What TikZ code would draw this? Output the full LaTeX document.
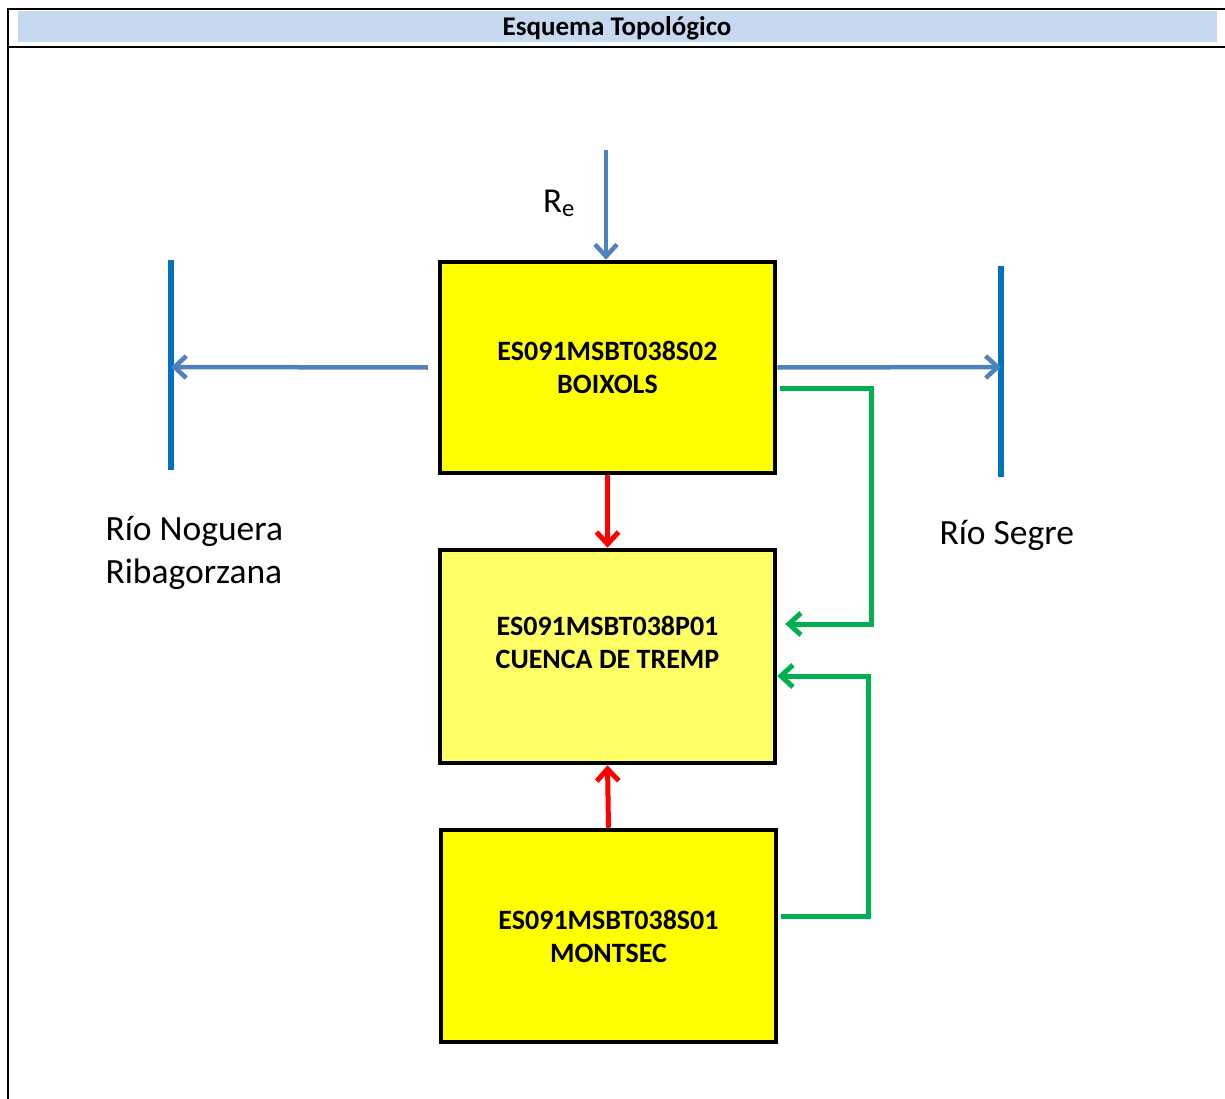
\documentclass[tikz,border=0pt]{standalone}
\usepackage{fontspec}
\setmainfont{Carlito}
\usetikzlibrary{arrows.meta}
\definecolor{hdrblue}{RGB}{198,217,241}
\definecolor{flowblue}{RGB}{79,129,189}
\definecolor{riverblue}{RGB}{0,112,192}
\definecolor{linkgreen}{RGB}{0,176,80}
\definecolor{massyellow}{RGB}{255,255,0}
\definecolor{paleyellow}{RGB}{255,255,102}
\begin{document}
\begin{tikzpicture}[x=1pt,y=-1pt,
  frame/.style={line width=2.5pt,black},
  mass/.style={draw=black,line width=4.5pt,minimum width=335pt,inner sep=0pt},
  masstext/.style={font=\fontsize{28}{33}\selectfont\bfseries,align=center},
  tip/.style={-{Straight Barb[length=12pt,width=22pt]}},
  flow/.style={tip,flowblue,line width=4.5pt},
  river/.style={riverblue,line width=6pt},
  link/.style={tip,linkgreen,line width=5pt},
  drain/.style={tip,red,line width=5pt},
  label/.style={font=\fontsize{35.5}{43}\selectfont,align=left}]
\useasboundingbox (0,0) rectangle (1225,1099);

% table frame and title row
\fill[hdrblue] (18,11) rectangle (1217,42);
\draw[frame] (8,1099) -- (8,9) -- (1225,9);
\draw[frame] (8,47) -- (1225,47);
\node[font=\fontsize{27}{30}\selectfont\bfseries] (title) at (617,28) {Esquema Topológico};

% groundwater bodies
\node[mass,fill=massyellow,minimum height=211pt] (b1) at (607.5,367.5) {};
\node[masstext] (t1) at (b1.center) {ES091MSBT038S02\\BOIXOLS};
\node[mass,fill=paleyellow,minimum height=213pt] (b2) at (607.5,656.5) {};
\node[masstext] (t2) at ([yshift=14pt]b2.center) {ES091MSBT038P01\\CUENCA DE TREMP};
\node[mass,fill=massyellow,minimum height=212pt] (b3) at (608.5,936) {};
\node[masstext] (t3) at (b3.center) {ES091MSBT038S01\\MONTSEC};

% rivers
\coordinate (nogTop) at (171,260);
\coordinate (nogBot) at (171,470);
\coordinate (segTop) at (1001,266);
\coordinate (segBot) at (1001,477);
\draw[river] (nogTop) -- (nogBot);
\draw[river] (segTop) -- (segBot);
\node[label,anchor=north west] (nog) at (102,513) {Río Noguera\\Ribagorzana};
\node[label,anchor=north west] (seg) at (936,517) {Río Segre};

% recharge
\coordinate (reTop) at (606,150);
\draw[flow] (reTop) -- (b1.north -| reTop);
\node[font=\fontsize{35}{40}\selectfont] (re) at (559,203) {R\textsubscript{e}};

% outflows to rivers
\coordinate (nogIn) at (171,367);
\coordinate (segIn) at (1001,367);
\draw[flow] ([xshift=-10pt]b1.west) -- (nogIn);
\draw[flow] (b1.east) -- (segIn);

% vertical transfers
\draw[drain] (b1.south) -- (b2.north);
\draw[drain] (b3.north) -- (b2.south);

% lateral transfers
\draw[link] ([xshift=3pt]b1.east |- 0,388) -| (871,624) -- ([xshift=8pt]b2.east |- 0,624);
\draw[link] ([xshift=3pt]b3.east |- 0,916) -| (868,676) -- (b2.east |- 0,676);
\end{tikzpicture}
\end{document}
